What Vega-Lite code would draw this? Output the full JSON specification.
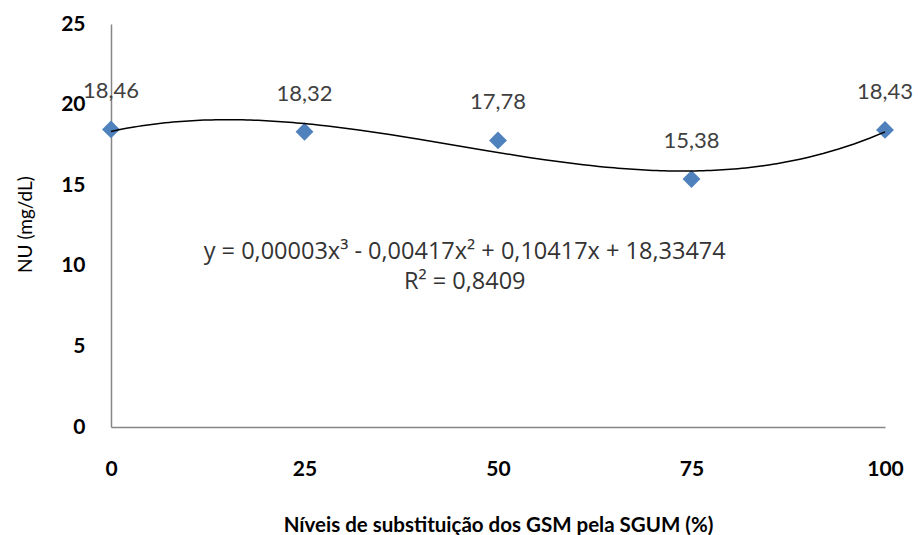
{
  "$schema": "https://vega.github.io/schema/vega-lite/v6.json",
  "autosize": "none",
  "width": 774,
  "height": 403,
  "padding": {"left": 111, "top": 24, "right": 33, "bottom": 108},
  "background": "white",
  "config": {
    "view": {"stroke": null},
    "font": "Lato",
    "locale": {"number": {"decimal": ",", "thousands": ".", "grouping": [3], "currency": ["", ""]}}
  },
  "data": {"values": [
    {"nivel": 0, "nu": 18.46},
    {"nivel": 25, "nu": 18.32},
    {"nivel": 50, "nu": 17.78},
    {"nivel": 75, "nu": 15.38},
    {"nivel": 100, "nu": 18.43}
  ]},
  "encoding": {
    "x": {
      "field": "nivel", "type": "quantitative",
      "scale": {"domain": [0, 100], "nice": false, "zero": false},
      "axis": {
        "values": [0, 25, 50, 75, 100], "grid": false, "ticks": false,
        "domainColor": "#868686", "domainWidth": 1.5,
        "labelFont": "Lato", "labelFontWeight": "bold", "labelFontSize": 21, "labelColor": "#000000",
        "labelPadding": 31, "labelFlush": false,
        "title": "Níveis de substituição dos GSM pela SGUM (%)",
        "titleFont": "Lato", "titleFontWeight": "bold", "titleFontSize": 20.5, "titleColor": "#000000",
        "titleBaseline": "alphabetic", "titleY": 104
      }
    },
    "y": {
      "field": "nu", "type": "quantitative",
      "scale": {"domain": [0, 25], "nice": false},
      "axis": {
        "values": [0, 5, 10, 15, 20, 25], "grid": false, "ticks": false,
        "domainColor": "#868686", "domainWidth": 1.5,
        "labelFont": "Lato", "labelFontWeight": "bold", "labelFontSize": 21, "labelColor": "#000000",
        "labelPadding": 26, "labelFlush": false,
        "title": "NU (mg/dL)",
        "titleFont": "Lato", "titleFontWeight": "normal", "titleFontSize": 19, "titleColor": "#000000",
        "titleX": -86, "titleY": 200, "titleAlign": "center", "titleBaseline": "middle", "titleAngle": -90
      }
    }
  },
  "layer": [
    {
      "mark": {"type": "point", "shape": "diamond", "filled": true, "color": "#4F81BD", "opacity": 1, "size": 320}
    },
    {
      "transform": [{"regression": "nu", "on": "nivel", "method": "poly", "order": 3, "extent": [0, 100]}],
      "mark": {"type": "line", "color": "#000000", "strokeWidth": 1.5}
    },
    {
      "mark": {"type": "text", "font": "Lato", "fontSize": 22, "color": "#404040", "dy": -38, "baseline": "middle"},
      "encoding": {"text": {"field": "nu", "type": "quantitative", "format": ".2f"}}
    },
    {
      "data": {"values": [
        {"nivel": 45.7, "nu": 10.85, "eq": "y = 0,00003x³ - 0,00417x² + 0,10417x + 18,33474"},
        {"nivel": 45.7, "nu": 9.0, "eq": "R² = 0,8409"}
      ]},
      "mark": {"type": "text", "font": "Open Sans", "fontSize": 23.5, "color": "#333333", "baseline": "middle", "align": "center"},
      "encoding": {"text": {"field": "eq", "type": "nominal"}}
    }
  ]
}
